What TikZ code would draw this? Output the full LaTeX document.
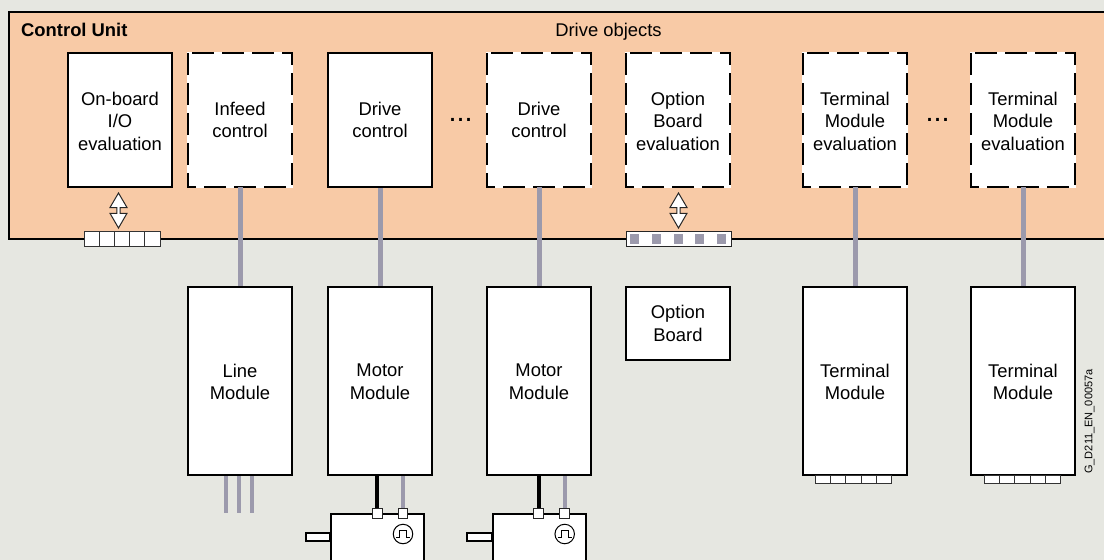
\documentclass[tikz,border=0pt]{standalone}
\usepackage{fontspec}
\setmainfont{Liberation Sans}
\definecolor{bgc}{HTML}{E6E7E1}
\definecolor{cuc}{HTML}{F8CAA6}
\definecolor{wirec}{HTML}{9C9AAC}
\tikzset{
  x=1pt,y=-1pt,
  lbl/.style={align=center,font=\fontsize{18.4}{22.5}\selectfont,inner sep=0pt},
  dotlbl/.style={font=\fontsize{28.8}{30}\selectfont,inner sep=0pt,anchor=base},
  solidbox/.style={draw=black,fill=white,line width=2pt,line join=miter},
  dashbox/.style={draw=white,fill=white,line width=2pt,outer sep=0pt},
  dashline/.style={draw=black,line width=2pt,dash pattern=on 22pt off 8pt,dash phase=26pt},
  wire/.style={draw=wirec,line width=5pt},
  thinwire/.style={draw=wirec,line width=4pt},
  blackwire/.style={draw=black,line width=4pt},
  term/.style={draw=black!80,fill=white,line width=1pt,minimum width=15.2pt,minimum height=15.5pt,inner sep=0pt},
  termsmall/.style={term,minimum height=8pt},
  port/.style={draw=black!85,fill=white,line width=1pt,minimum size=9.5pt,inner sep=0pt},
  dblarrow/.style={draw=black!85,fill=white,line width=1pt,line join=miter},
}
\begin{document}
\begin{tikzpicture}
\useasboundingbox (0,0) rectangle (1104,560);
\fill[bgc] (0,0) rectangle (1104,560);
\fill[cuc] (9,12) rectangle (1104,238.5);
\draw[line width=2pt,draw=black] (1104,12) -- (9,12) -- (9,238.5) -- (1104,238.5);
\node[lbl,font=\fontsize{18.4}{22.5}\selectfont\bfseries,anchor=west] (cu) at (21,30) {Control Unit};
\node[lbl,anchor=center] (dob) at (608.5,32) {Drive objects};
% upper boxes
\node[solidbox,minimum width=104pt,minimum height=134pt,inner sep=0pt,anchor=north west] (a) at (67,52) {};
\node[lbl,yshift=-1pt] at (a.center) {On-board\\I/O\\evaluation};
\node[solidbox,minimum width=104pt,minimum height=134pt,inner sep=0pt,anchor=north west] (c) at (327,52) {};
\node[lbl] at (c.center) {Drive\\control};
\foreach \nm/\xx/\ys/\txt in {b/188/0/{Infeed\\control},d/487/0/{Drive\\control},e/626/-1/{Option\\Board\\evaluation},f/803/-1/{Terminal\\Module\\evaluation},g/971/-1/{Terminal\\Module\\evaluation}}{
  \node[dashbox,minimum width=104pt,minimum height=134pt,inner sep=0pt,anchor=north west] (\nm) at (\xx,53) {};
  \draw[dashline] (\nm.north west) -- (\nm.north east) -- (\nm.south east) -- (\nm.south west) -- cycle;
  \node[lbl,yshift=\ys pt] at (\nm.center) {\txt};
}
\node[dotlbl] (dots1) at (460.5,121.5) {...};
\node[dotlbl] (dots2) at (937.5,121.5) {...};
% lower boxes
\foreach \nm/\xx/\txt in {lm/187/{Line\\Module},m1/327/{Motor\\Module},m2/486/{Motor\\Module},t1/802/{Terminal\\Module},t2/970/{Terminal\\Module}}{
  \node[solidbox,minimum width=104pt,minimum height=188pt,inner sep=0pt,anchor=north west] (\nm) at (\xx,286) {};
  \node[lbl,yshift=-1pt] at (\nm.center) {\txt};
}
\node[solidbox,minimum width=104pt,minimum height=73pt,inner sep=0pt,anchor=north west] (ob) at (625,286) {};
\node[lbl] at (ob.center) {Option\\Board};
% wires
\foreach \nm/\lo in {b/lm,c/m1,d/m2,f/t1,g/t2}{
  \draw[wire] (\nm.south) -- (\lo.north);
}
% three-phase
\coordinate (p1) at (226,513); \coordinate (p2) at (239,513); \coordinate (p3) at (252,513);
\draw[thinwire] (p1|-lm.south) -- (p1);
\draw[thinwire] (p2|-lm.south) -- (p2);
\draw[thinwire] (p3|-lm.south) -- (p3);
% motors
\foreach \mm/\mx/\lo/\bx/\gx/\sx in {1/331/m1/377.3/403/306.5,2/492.5/m2/538.7/564.7/468}{
  \draw[solidbox] (\mx+93,562) -- (\mx+93,513.5) -- (\mx,513.5) -- (\mx,562);
  \node[solidbox,minimum width=\mx-\sx,minimum height=8.5pt,inner sep=0pt,anchor=east] (sh\mm) at (\mx,537) {};
  \coordinate (bp\mm) at (\bx,513.5);
  \coordinate (gp\mm) at (\gx,513.5);
  \draw[blackwire] (bp\mm|-\lo.south) -- (bp\mm);
  \draw[thinwire] (gp\mm|-\lo.south) -- (gp\mm);
  \node[port] (pb\mm) at (bp\mm) {};
  \node[port] (pg\mm) at (gp\mm) {};
  \node[draw=black,fill=white,circle,line width=1pt,minimum size=19.5pt,inner sep=0pt] (enc\mm) at (\gx,534) {};
  \draw[line width=1pt] (\gx-7,537.5) -- ++(3.5,0) -- ++(0,-7) -- ++(7,0) -- ++(0,7) -- ++(3.5,0);
}
% terminal strips
\foreach \nm/\xs in {s1/83.5,s2/98.7,s3/113.9,s4/129.1,s5/144.3}{
  \node[term,anchor=north west] (\nm) at (\xs,230.7) {};
}
\foreach \nm/\xs in {ta1/815,ta2/830.2,ta3/845.4,ta4/860.6,ta5/875.8,tb1/984,tb2/999.2,tb3/1014.4,tb4/1029.6,tb5/1044.8}{
  \node[termsmall,anchor=north west] (\nm) at (\xs,475) {};
}
\node[draw=black!85,fill=white,line width=1pt,minimum width=105pt,minimum height=15.5pt,inner sep=0pt,anchor=north west] (optstrip) at (626,230.7) {};
\foreach \xs in {634.5,656.5,678.5,699.5,721.5}{
  \fill[wirec] (\xs-4.5,233.7) rectangle (\xs+4.5,243.7);
}
% double arrows
\foreach \cx in {118.5,678.5}{
  \draw[dblarrow] (\cx,193) -- (\cx+8.5,207.5) -- (\cx+1.7,207.5) -- (\cx+1.7,213.3) -- (\cx+8.5,213.3) -- (\cx,228) -- (\cx-8.5,213.3) -- (\cx-1.7,213.3) -- (\cx-1.7,207.5) -- (\cx-8.5,207.5) -- cycle;
}
\node[lbl,font=\fontsize{11}{12}\selectfont,rotate=90] (code) at (1089.5,421.5) {G\_D211\_EN\_00057a};
\end{tikzpicture}
\end{document}
